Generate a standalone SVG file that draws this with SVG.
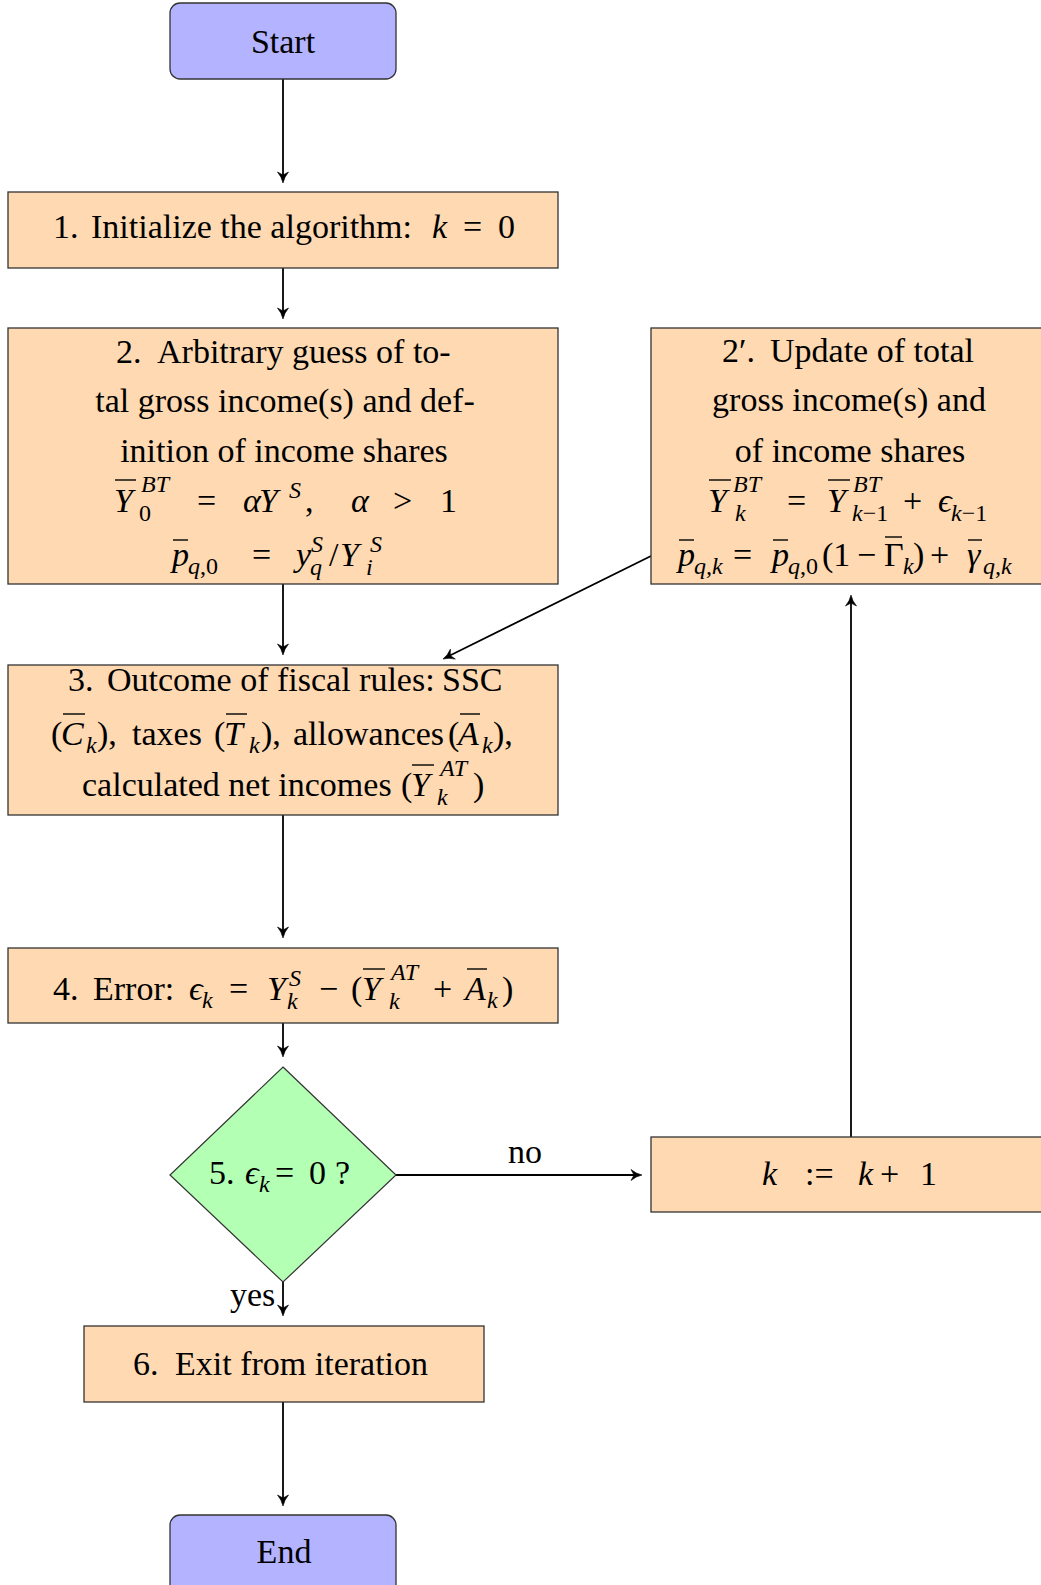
<svg xmlns="http://www.w3.org/2000/svg" width="1041" height="1585" viewBox="0 0 1041 1585">
<defs>
<path id="ah" d="M0,0 Q-6,-1.3 -11,-5.5 L-8,0 L-11,5.5 Q-6,1.3 0,0 Z" fill="#000" stroke="#000" stroke-width="0.6" stroke-linejoin="round"/>
</defs>
<rect width="1041" height="1585" fill="#fff"/>

<g id="connectors" stroke="#000" stroke-width="1.8" fill="none">
<line x1="283" y1="79" x2="283" y2="177"/>
<use href="#ah" transform="translate(283,183) rotate(90)"/>
<line x1="283" y1="268" x2="283" y2="313"/>
<use href="#ah" transform="translate(283,319) rotate(90)"/>
<line x1="283" y1="584" x2="283" y2="649"/>
<use href="#ah" transform="translate(283,655) rotate(90)"/>
<line x1="651" y1="556" x2="448.4" y2="656.3"/>
<use href="#ah" transform="translate(443,659) rotate(153.66)"/>
<line x1="283" y1="815" x2="283" y2="932"/>
<use href="#ah" transform="translate(283,938) rotate(90)"/>
<line x1="283" y1="1023" x2="283" y2="1051"/>
<use href="#ah" transform="translate(283,1057) rotate(90)"/>
<line x1="396" y1="1175" x2="636" y2="1175"/>
<use href="#ah" transform="translate(642,1175)"/>
<line x1="851" y1="1137" x2="851" y2="601"/>
<use href="#ah" transform="translate(851,595) rotate(-90)"/>
<line x1="283" y1="1282" x2="283" y2="1310"/>
<use href="#ah" transform="translate(283,1316) rotate(90)"/>
<line x1="283" y1="1402" x2="283" y2="1500"/>
<use href="#ah" transform="translate(283,1506) rotate(90)"/>
<text font-family="Liberation Serif" font-size="34" fill="#000" stroke="none" x="508" y="1163">no</text>
<text font-family="Liberation Serif" font-size="34" fill="#000" stroke="none" x="230" y="1306">yes</text>
</g>

<g id="start">
<rect fill="#B3B3FF" stroke="#333" stroke-width="1.3" x="170" y="3" width="226" height="76" rx="10"/>
<text font-family="Liberation Serif" font-size="34" text-anchor="middle" x="283" y="53">Start</text>
</g>

<g id="step1">
<rect fill="#FFD9B2" stroke="#333" stroke-width="1.3" x="8" y="192" width="550" height="76"/>
<text font-family="Liberation Serif" font-size="34" x="53" y="238">1.</text>
<text font-family="Liberation Serif" font-size="34" x="91" y="238">Initialize the algorithm:</text>
<text font-family="Liberation Serif" font-size="34" font-style="italic" x="432" y="238">k</text>
<text font-family="Liberation Serif" font-size="34" x="463" y="238">=</text>
<text font-family="Liberation Serif" font-size="34" x="498" y="238">0</text>
</g>

<g id="step2">
<rect fill="#FFD9B2" stroke="#333" stroke-width="1.3" x="8" y="328" width="550" height="256"/>
<text font-family="Liberation Serif" font-size="34" x="116" y="363">2.</text>
<text font-family="Liberation Serif" font-size="34" x="157" y="363">Arbitrary guess of to-</text>
<text font-family="Liberation Serif" font-size="34" text-anchor="middle" x="285" y="412">tal gross income(s) and def-</text>
<text font-family="Liberation Serif" font-size="34" text-anchor="middle" x="284" y="462">inition of income shares</text>
<text font-family="Liberation Serif" font-size="34" font-style="italic" x="114" y="512">Y</text>
<line stroke="#000" stroke-width="1.4" x1="115" y1="480" x2="136" y2="480"/>
<text font-family="Liberation Serif" font-size="24" font-style="italic" x="141" y="492">BT</text>
<text font-family="Liberation Serif" font-size="24" x="139" y="521">0</text>
<text font-family="Liberation Serif" font-size="34" x="197" y="512">=</text>
<text font-family="Liberation Serif" font-size="34" font-style="italic" x="243" y="512">α</text>
<text font-family="Liberation Serif" font-size="34" font-style="italic" x="259" y="512">Y</text>
<text font-family="Liberation Serif" font-size="24" font-style="italic" x="289" y="498">S</text>
<text font-family="Liberation Serif" font-size="34" x="305" y="512">,</text>
<text font-family="Liberation Serif" font-size="34" font-style="italic" x="351" y="512">α</text>
<text font-family="Liberation Serif" font-size="34" x="393" y="512">&gt;</text>
<text font-family="Liberation Serif" font-size="34" x="440" y="512">1</text>
<text font-family="Liberation Serif" font-size="34" font-style="italic" x="172" y="566">p</text>
<line stroke="#000" stroke-width="1.4" x1="173" y1="540" x2="188" y2="540"/>
<text font-family="Liberation Serif" font-size="24" x="188" y="574"><tspan font-style="italic">q</tspan>,0</text>
<text font-family="Liberation Serif" font-size="34" x="252" y="566">=</text>
<text font-family="Liberation Serif" font-size="34" font-style="italic" x="296" y="566">y</text>
<text font-family="Liberation Serif" font-size="24" font-style="italic" x="311" y="552">S</text>
<text font-family="Liberation Serif" font-size="24" font-style="italic" x="310" y="575">q</text>
<text font-family="Liberation Serif" font-size="34" x="329" y="566">/</text>
<text font-family="Liberation Serif" font-size="34" font-style="italic" x="340" y="566">Y</text>
<text font-family="Liberation Serif" font-size="24" font-style="italic" x="370" y="552">S</text>
<text font-family="Liberation Serif" font-size="24" font-style="italic" x="366" y="575">i</text>
</g>

<g id="step2prime">
<rect fill="#FFD9B2" stroke="#333" stroke-width="1.3" x="651" y="328" width="400" height="256"/>
<text font-family="Liberation Serif" font-size="34" x="722" y="362">2′.</text>
<text font-family="Liberation Serif" font-size="34" x="770" y="362">Update of total</text>
<text font-family="Liberation Serif" font-size="34" text-anchor="middle" x="849" y="411">gross income(s) and</text>
<text font-family="Liberation Serif" font-size="34" text-anchor="middle" x="850" y="462">of income shares</text>
<text font-family="Liberation Serif" font-size="34" font-style="italic" x="708" y="512">Y</text>
<line stroke="#000" stroke-width="1.4" x1="709" y1="480" x2="731" y2="480"/>
<text font-family="Liberation Serif" font-size="24" font-style="italic" x="733" y="492">BT</text>
<text font-family="Liberation Serif" font-size="24" font-style="italic" x="735" y="521">k</text>
<text font-family="Liberation Serif" font-size="34" x="787" y="512">=</text>
<text font-family="Liberation Serif" font-size="34" font-style="italic" x="827" y="512">Y</text>
<line stroke="#000" stroke-width="1.4" x1="828" y1="480" x2="850" y2="480"/>
<text font-family="Liberation Serif" font-size="24" font-style="italic" x="853" y="492">BT</text>
<text font-family="Liberation Serif" font-size="24" x="852" y="521"><tspan font-style="italic">k</tspan>−1</text>
<text font-family="Liberation Serif" font-size="34" x="903" y="512">+</text>
<text font-family="Liberation Serif" font-size="34" font-style="italic" x="938" y="512">ϵ</text>
<text font-family="Liberation Serif" font-size="24" x="951" y="521"><tspan font-style="italic">k</tspan>−1</text>
<text font-family="Liberation Serif" font-size="34" font-style="italic" x="678" y="566">p</text>
<line stroke="#000" stroke-width="1.4" x1="679" y1="540" x2="694" y2="540"/>
<text font-family="Liberation Serif" font-size="24" font-style="italic" x="694" y="574">q,k</text>
<text font-family="Liberation Serif" font-size="34" x="733" y="566">=</text>
<text font-family="Liberation Serif" font-size="34" font-style="italic" x="772" y="566">p</text>
<line stroke="#000" stroke-width="1.4" x1="773" y1="540" x2="788" y2="540"/>
<text font-family="Liberation Serif" font-size="24" x="788" y="574"><tspan font-style="italic">q</tspan>,0</text>
<text font-family="Liberation Serif" font-size="34" x="822" y="566">(1</text>
<text font-family="Liberation Serif" font-size="34" x="857" y="566">−</text>
<text font-family="Liberation Serif" font-size="34" x="884" y="566">Γ</text>
<line stroke="#000" stroke-width="1.4" x1="885" y1="537" x2="902" y2="537"/>
<text font-family="Liberation Serif" font-size="24" font-style="italic" x="903" y="574">k</text>
<text font-family="Liberation Serif" font-size="34" x="913" y="566">)</text>
<text font-family="Liberation Serif" font-size="34" x="930" y="566">+</text>
<text font-family="Liberation Serif" font-size="34" font-style="italic" x="967" y="566">γ</text>
<line stroke="#000" stroke-width="1.4" x1="968" y1="540" x2="982" y2="540"/>
<text font-family="Liberation Serif" font-size="24" font-style="italic" x="983" y="574">q,k</text>
</g>

<g id="step3">
<rect fill="#FFD9B2" stroke="#333" stroke-width="1.3" x="8" y="665" width="550" height="150"/>
<text font-family="Liberation Serif" font-size="34" x="68" y="691">3.</text>
<text font-family="Liberation Serif" font-size="34" x="107" y="691">Outcome of fiscal rules:</text>
<text font-family="Liberation Serif" font-size="34" x="442" y="691">SSC</text>
<text font-family="Liberation Serif" font-size="34" x="51" y="745">(</text>
<text font-family="Liberation Serif" font-size="34" font-style="italic" x="61" y="745">C</text>
<line stroke="#000" stroke-width="1.4" x1="63" y1="714" x2="85" y2="714"/>
<text font-family="Liberation Serif" font-size="24" font-style="italic" x="86" y="753">k</text>
<text font-family="Liberation Serif" font-size="34" x="97" y="745">),</text>
<text font-family="Liberation Serif" font-size="34" x="132" y="745">taxes</text>
<text font-family="Liberation Serif" font-size="34" x="214" y="745">(</text>
<text font-family="Liberation Serif" font-size="34" font-style="italic" x="224" y="745">T</text>
<line stroke="#000" stroke-width="1.4" x1="226" y1="714" x2="247" y2="714"/>
<text font-family="Liberation Serif" font-size="24" font-style="italic" x="249" y="753">k</text>
<text font-family="Liberation Serif" font-size="34" x="261" y="745">),</text>
<text font-family="Liberation Serif" font-size="34" x="293" y="745">allowances</text>
<text font-family="Liberation Serif" font-size="34" x="448" y="745">(</text>
<text font-family="Liberation Serif" font-size="34" font-style="italic" x="458" y="745">A</text>
<line stroke="#000" stroke-width="1.4" x1="460" y1="714" x2="480" y2="714"/>
<text font-family="Liberation Serif" font-size="24" font-style="italic" x="482" y="753">k</text>
<text font-family="Liberation Serif" font-size="34" x="493" y="745">),</text>
<text font-family="Liberation Serif" font-size="34" x="82" y="796">calculated net incomes</text>
<text font-family="Liberation Serif" font-size="34" x="401" y="796">(</text>
<text font-family="Liberation Serif" font-size="34" font-style="italic" x="411" y="796">Y</text>
<line stroke="#000" stroke-width="1.4" x1="412" y1="765" x2="434" y2="765"/>
<text font-family="Liberation Serif" font-size="24" font-style="italic" x="440" y="776">AT</text>
<text font-family="Liberation Serif" font-size="24" font-style="italic" x="437" y="805">k</text>
<text font-family="Liberation Serif" font-size="34" x="473" y="796">)</text>
</g>

<g id="step4">
<rect fill="#FFD9B2" stroke="#333" stroke-width="1.3" x="8" y="948" width="550" height="75"/>
<text font-family="Liberation Serif" font-size="34" x="53" y="1000">4.</text>
<text font-family="Liberation Serif" font-size="34" x="93" y="1000">Error:</text>
<text font-family="Liberation Serif" font-size="34" font-style="italic" x="189" y="1000">ϵ</text>
<text font-family="Liberation Serif" font-size="24" font-style="italic" x="202" y="1008">k</text>
<text font-family="Liberation Serif" font-size="34" x="229" y="1000">=</text>
<text font-family="Liberation Serif" font-size="34" font-style="italic" x="267" y="1000">Y</text>
<text font-family="Liberation Serif" font-size="24" font-style="italic" x="289" y="986">S</text>
<text font-family="Liberation Serif" font-size="24" font-style="italic" x="287" y="1009">k</text>
<text font-family="Liberation Serif" font-size="34" x="319" y="1000">−</text>
<text font-family="Liberation Serif" font-size="34" x="351" y="1000">(</text>
<text font-family="Liberation Serif" font-size="34" font-style="italic" x="362" y="1000">Y</text>
<line stroke="#000" stroke-width="1.4" x1="363" y1="969" x2="385" y2="969"/>
<text font-family="Liberation Serif" font-size="24" font-style="italic" x="391" y="980">AT</text>
<text font-family="Liberation Serif" font-size="24" font-style="italic" x="389" y="1009">k</text>
<text font-family="Liberation Serif" font-size="34" x="433" y="1000">+</text>
<text font-family="Liberation Serif" font-size="34" font-style="italic" x="465" y="1000">A</text>
<line stroke="#000" stroke-width="1.4" x1="467" y1="969" x2="487" y2="969"/>
<text font-family="Liberation Serif" font-size="24" font-style="italic" x="487" y="1008">k</text>
<text font-family="Liberation Serif" font-size="34" x="502" y="1000">)</text>
</g>

<g id="step5">
<polygon fill="#B3FFB3" stroke="#333" stroke-width="1.2" points="283,1067 396,1175 283,1282 170,1175"/>
<text font-family="Liberation Serif" font-size="34" x="209" y="1184">5.</text>
<text font-family="Liberation Serif" font-size="34" font-style="italic" x="245" y="1184">ϵ</text>
<text font-family="Liberation Serif" font-size="24" font-style="italic" x="259" y="1192">k</text>
<text font-family="Liberation Serif" font-size="34" x="275" y="1184">=</text>
<text font-family="Liberation Serif" font-size="34" x="309" y="1184">0</text>
<text font-family="Liberation Serif" font-size="34" x="335" y="1184">?</text>
</g>

<g id="increment">
<rect fill="#FFD9B2" stroke="#333" stroke-width="1.3" x="651" y="1137" width="400" height="75"/>
<text font-family="Liberation Serif" font-size="34" font-style="italic" x="762" y="1185">k</text>
<text font-family="Liberation Serif" font-size="34" x="805" y="1185">:=</text>
<text font-family="Liberation Serif" font-size="34" font-style="italic" x="858" y="1185">k</text>
<text font-family="Liberation Serif" font-size="34" x="880" y="1185">+</text>
<text font-family="Liberation Serif" font-size="34" x="920" y="1185">1</text>
</g>

<g id="step6">
<rect fill="#FFD9B2" stroke="#333" stroke-width="1.3" x="84" y="1326" width="400" height="76"/>
<text font-family="Liberation Serif" font-size="34" x="133" y="1375">6.</text>
<text font-family="Liberation Serif" font-size="34" x="175" y="1375">Exit from iteration</text>
</g>

<g id="end">
<rect fill="#B3B3FF" stroke="#333" stroke-width="1.3" x="170" y="1515" width="226" height="80" rx="10"/>
<text font-family="Liberation Serif" font-size="34" text-anchor="middle" x="284" y="1563">End</text>
</g>
</svg>
